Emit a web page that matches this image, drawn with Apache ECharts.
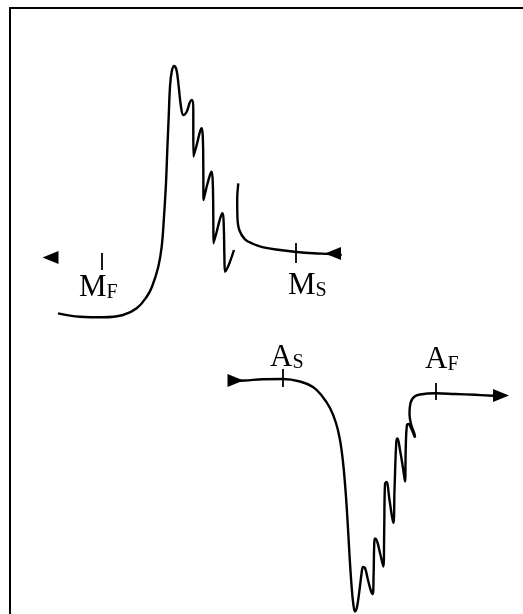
<!DOCTYPE html>
<html>
<head>
<meta charset="utf-8">
<script src="https://cdn.jsdelivr.net/npm/echarts@6/dist/echarts.min.js"></script>
<style>
html,body{margin:0;padding:0;background:#fff;}
#chart{width:523px;height:614px;}
</style>
</head>
<body>
<div id="chart"></div>
<script>
// Cooling curve (martensite transformation), main part with the bursts
const coolMainX = [58, 80, 103, 123, 136.7, 146.7, 152, 158.3, 161.7, 164, 166, 167.3, 168.7, 170, 171.7, 174, 176.5, 178.7, 181, 183.3, 186.7, 190, 192, 193.3, 193.3, 193.5, 196.7, 200, 201.7, 202.8, 203.3, 203.5, 206.7, 210, 211.7, 212.8, 213.3, 213.5, 216.7, 220.7, 222.7, 223.8, 224.4, 225, 227.3, 230, 234];
const coolMainY = [313.3, 316.7, 317.3, 315, 308.3, 296.7, 286.7, 266.7, 246.7, 216.7, 183.3, 150, 116.7, 86.7, 71.7, 66, 70, 86.7, 106.7, 115, 111.7, 102, 100, 110, 133, 156.7, 145, 131.7, 128.3, 137, 166.7, 200, 186.7, 175, 171.7, 184, 216.7, 243.3, 231.7, 216.7, 213.3, 227, 256.7, 271.7, 268.3, 261.7, 250];
// Cooling curve, tail part (start of transformation)
const coolTailX = [238.3, 237.2, 237.4, 239.3, 245, 253.3, 263.3, 280, 296.7, 313.3, 330, 341.7];
const coolTailY = [183.3, 200, 216.7, 230, 239.3, 244, 247.3, 250, 252, 253.3, 254, 255];
// Heating curve (austenite transformation)
const heatX = [230, 245, 263, 283, 300, 313, 322, 330, 336, 340, 343, 345.5, 347.5, 349.5, 351.5, 353.3, 355, 357, 359.5, 361.5, 363, 365, 368, 371, 372.7, 373.6, 374.2, 375, 377, 380, 383.3, 384.2, 385, 386.5, 389.5, 393.3, 394.5, 396.3, 397.5, 400, 403, 405, 405.7, 406.8, 408.5, 411, 413.5, 415, 414.5, 411, 409.5, 410.5, 414, 420, 436, 455, 475, 493];
const heatY = [381, 380.5, 379.2, 379, 381.5, 387, 396, 408, 423, 440, 462, 490, 520, 555, 585, 604, 611.5, 607, 590, 574, 567, 568, 580, 591, 594, 575, 545, 538.5, 541, 553, 566.5, 530, 484, 482, 500, 523, 490, 442, 438.5, 450, 468, 481.5, 450, 426, 424, 428, 434, 437.5, 434, 424, 414, 403, 397, 394.5, 393.3, 394, 394.8, 395.7];
// Direction arrows
const arrowX = [50.5, 333, 235.5, 501];
const arrowY = [257.5, 253.5, 380.5, 395.5];
const arrowDir = ['left', 'left', 'right', 'right'];
// Transformation temperature ticks
const tickX = [102, 296, 283, 436];
const tickTop = [253, 243, 369, 383];
const tickBottom = [270, 263, 387, 400];
// Labels (left edge, baseline)
const labelX = [79, 288, 270, 425];
const labelY = [303, 301, 373, 375];
const labelMain = ['M', 'M', 'A', 'A'];
const labelSub = ['F', 'S', 'S', 'F'];

const pairs = (xs, ys) => xs.map((x, i) => [x, ys[i]]);

const lineStyle = { color: '#000', width: 2.4 };
const series = [];
[[coolMainX, coolMainY], [coolTailX, coolTailY], [heatX, heatY]].forEach(([xs, ys]) => {
  series.push({
    type: 'line', data: pairs(xs, ys), smooth: 0.4, showSymbol: false, symbol: 'none',
    lineStyle: lineStyle, silent: true
  });
});
tickX.forEach((x, i) => {
  series.push({
    type: 'line', data: [[x, tickTop[i]], [x, tickBottom[i]]], showSymbol: false, symbol: 'none',
    lineStyle: { color: '#000', width: 1.8 }, silent: true
  });
});
series.push({
  type: 'scatter', silent: true,
  data: arrowX.map((x, i) => ({ value: [x, arrowY[i]], symbolRotate: arrowDir[i] === 'left' ? 90 : -90 })),
  symbol: 'triangle', symbolSize: [13, 16], itemStyle: { color: '#000', opacity: 1 }
});
series.push({
  type: 'scatter', silent: true, symbolSize: 1, itemStyle: { color: 'rgba(0,0,0,0)', opacity: 1 },
  data: labelX.map((x, i) => ({ value: [x, labelY[i]], main: labelMain[i], sub: labelSub[i] })),
  label: {
    show: true, position: 'inside', align: 'left', verticalAlign: 'bottom',
    color: '#000', textBorderWidth: 0, opacity: 1,
    formatter: p => '{a|' + p.data.main + '}{b|' + p.data.sub + '}',
    rich: {
      a: { fontFamily: 'Liberation Serif', fontSize: 31, color: '#000', lineHeight: 31, verticalAlign: 'bottom' },
      b: { fontFamily: 'Liberation Serif', fontSize: 20, color: '#000', lineHeight: 20, verticalAlign: 'bottom' }
    }
  }
});

const chart = echarts.init(document.getElementById('chart'), null, { renderer: 'canvas' });
chart.setOption({
  animation: false,
  backgroundColor: '#fff',
  grid: { left: 10, top: 8, right: 0, bottom: 0, containLabel: false },
  xAxis: {
    type: 'value', min: 10, max: 523, position: 'top',
    axisLine: { show: true, onZero: false, lineStyle: { color: '#000', width: 2 } },
    axisTick: { show: false }, axisLabel: { show: false }, splitLine: { show: false }
  },
  yAxis: {
    type: 'value', min: 8, max: 614, inverse: true,
    axisLine: { show: true, onZero: false, lineStyle: { color: '#000', width: 2 } },
    axisTick: { show: false }, axisLabel: { show: false }, splitLine: { show: false }
  },
  series: series
});
</script>
</body>
</html>
